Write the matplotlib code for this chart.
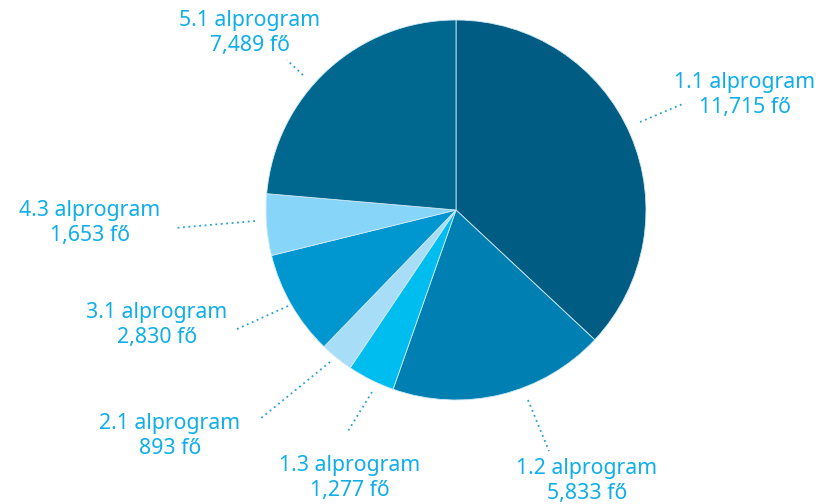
import matplotlib
matplotlib.use("Agg")
import matplotlib.pyplot as plt

# --- data ---
programs = ["1.1", "1.2", "1.3", "2.1", "3.1", "4.3", "5.1"]
people = [11715, 5833, 1277, 893, 2830, 1653, 7489]
colors = ["#005c82", "#0080b2", "#00bdf0", "#a8ddf7", "#0096cf", "#87d5f8", "#00688f"]

# label placement (pixel coords, y from top): text centre, leader start/end
label_xy = [(745, 95), (587, 481), (350, 478), (170, 436), (157, 325), (90, 223), (250, 33)]
leaders = [((640, 122), (685, 103)), ((528, 400), (549, 451)), ((372, 392), (348, 431)),
           ((330, 362), (260, 419)), ((288, 306), (235, 330)), ((255, 221), (175, 228)),
           ((303, 75), (287, 60))]

W, H = 832, 504
TXT = "#0faeea"
LEAD = "#2a9fd8"

fig = plt.figure(figsize=(W / 100, H / 100), dpi=100)
ax = fig.add_axes([0, 0, 1, 1])

# inverted y axis: counterclock in data == clockwise on screen
ax.pie(people, colors=colors, center=(456, 210), radius=190,
       startangle=-90, counterclock=True, frame=True,
       wedgeprops=dict(edgecolor="#cfe9f5", linewidth=0.6))
ax.set_xlim(0, W)
ax.set_ylim(H, 0)
ax.set_aspect("equal")
ax.axis("off")

for prog, n, (x, y), (p0, p1) in zip(programs, people, label_xy, leaders):
    ax.text(x, y, f"{prog} alprogram\n{n:,} fő", ha="center", va="center",
            color=TXT, fontsize=15.3, family="Noto Sans", linespacing=1.2)
    ax.plot([p0[0], p1[0]], [p0[1], p1[1]], color=LEAD, lw=1.3,
            linestyle=(0, (1, 2)))

fig.savefig("out.png", dpi=100)
